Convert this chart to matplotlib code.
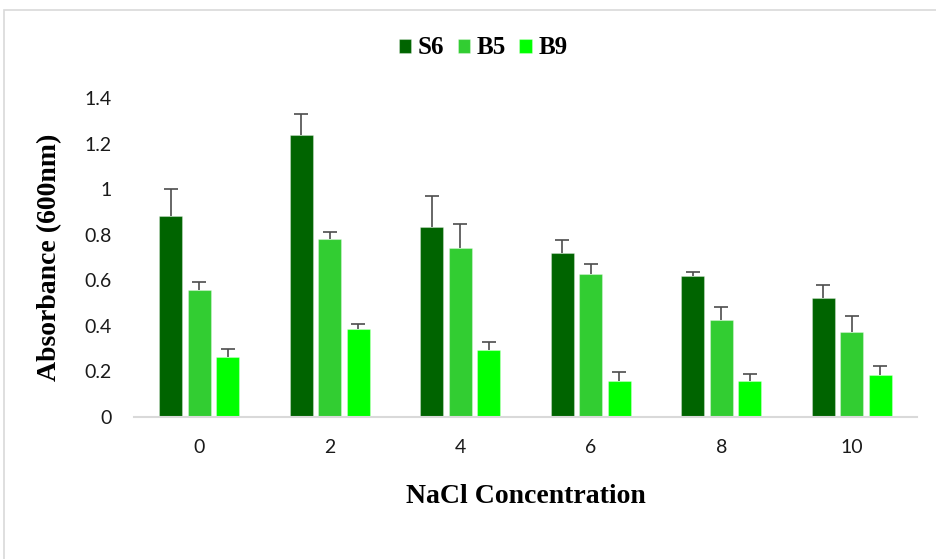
import matplotlib
matplotlib.use("Agg")
import matplotlib.pyplot as plt
import numpy as np
from matplotlib.patches import Rectangle

categories = ["0", "2", "4", "6", "8", "10"]
series_names = ["S6", "B5", "B9"]
s6 = [0.884, 1.237, 0.836, 0.720, 0.620, 0.523]
b5 = [0.558, 0.779, 0.743, 0.627, 0.426, 0.374]
b9 = [0.263, 0.385, 0.295, 0.159, 0.156, 0.186]
s6_err = [0.116, 0.093, 0.134, 0.055, 0.018, 0.058]
b5_err = [0.035, 0.031, 0.102, 0.045, 0.058, 0.069]
b9_err = [0.037, 0.025, 0.033, 0.037, 0.031, 0.038]
colors = ["#006400", "#32CD32", "#00FF00"]
yticks = [0, 0.2, 0.4, 0.6, 0.8, 1.0, 1.2, 1.4]
ytick_labels = ["0", "0.2", "0.4", "0.6", "0.8", "1", "1.2", "1.4"]

fig = plt.figure(figsize=(9.36, 5.59), dpi=100)
# outer chart border
fig.patches.append(Rectangle((4/936, -0.1), 1.2, 1 - 10/559 + 0.1, transform=fig.transFigure,
                             fill=False, edgecolor="#d9d9d9", linewidth=1.2, zorder=0))

ax = fig.add_axes([134/936, 1 - 417/559, (917-134)/936, (417-98)/559])
x = np.arange(len(categories))
w = 0.176
step = 0.22
for i, (vals, errs, c, name) in enumerate(zip([s6, b5, b9], [s6_err, b5_err, b9_err], colors, series_names)):
    pos = x + (i - 1) * step
    ax.bar(pos, vals, width=w, color=c, label=name, edgecolor=(1, 1, 1, 0.3), linewidth=0.8, zorder=2)
    eb = ax.errorbar(pos, vals, yerr=[np.zeros(len(errs)), errs], fmt="none", ecolor="#4d4d4d",
                     elinewidth=1.2, capsize=5, capthick=1.2, zorder=1)
    caps = eb[1]
    if len(caps) == 2:
        caps[0].set_visible(False)

ax.set_xlim(-0.5, len(categories) - 0.5)
ax.set_ylim(0, 1.4)
ax.set_yticks(yticks)
ax.set_yticklabels(ytick_labels)
ax.set_xticks(x)
ax.set_xticklabels(categories)
for s in ["top", "right", "left"]:
    ax.spines[s].set_visible(False)
ax.spines["bottom"].set_color("#d9d9d9")
ax.spines["bottom"].set_linewidth(1.5)
ax.spines["bottom"].set_zorder(3)
ax.tick_params(axis="both", length=0, labelsize=14, colors="#1a1a1a")
ax.tick_params(axis="y", pad=16)
ax.tick_params(axis="x", pad=16)
for lab in ax.get_xticklabels() + ax.get_yticklabels():
    lab.set_fontfamily("Lato")

ax.set_xlabel("NaCl Concentration", fontfamily="Liberation Serif", fontweight="bold", fontsize=20, labelpad=20)
ax.set_ylabel("Absorbance (600nm)", fontfamily="Liberation Serif", fontweight="bold", fontsize=20, labelpad=16)

leg = fig.legend(loc="center", bbox_to_anchor=(483/936, 1 - 48/559), ncol=3, frameon=False,
                 prop={"family": "Liberation Serif", "weight": "bold", "size": 18},
                 handlelength=0.5, handleheight=0.5, handletextpad=0.25, columnspacing=0.55)

fig.savefig("out.png", dpi=100)
